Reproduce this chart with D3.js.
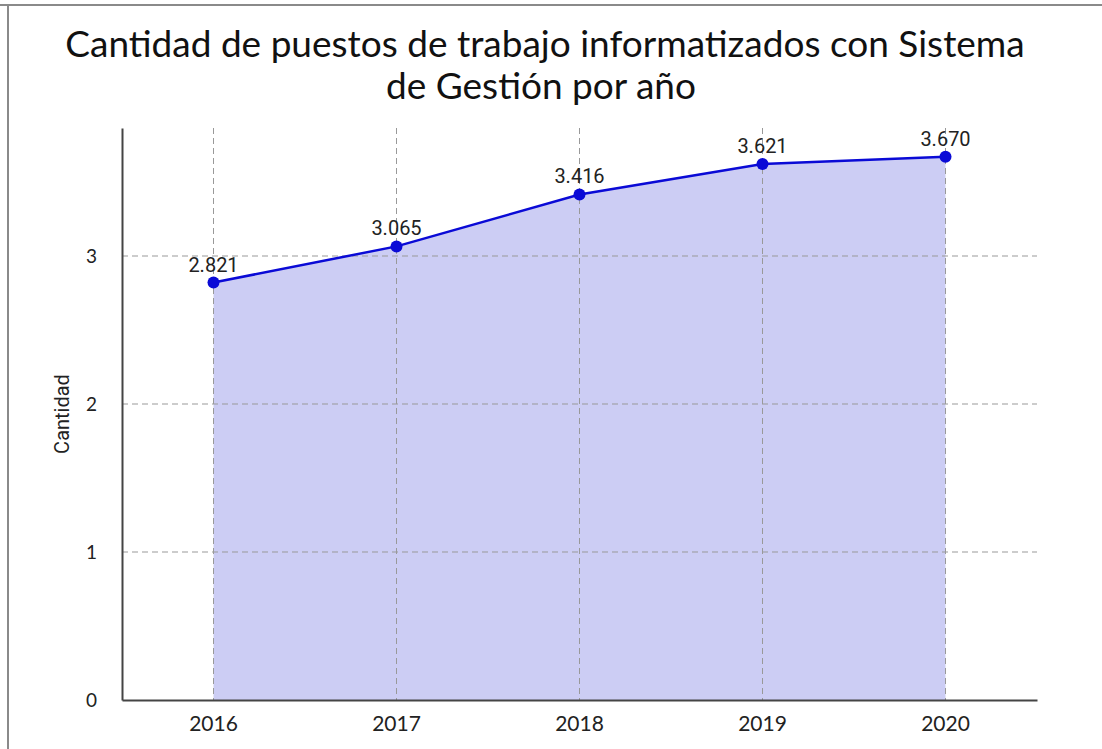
<!DOCTYPE html>
<html>
<head>
<meta charset="utf-8">
<script src="https://cdn.jsdelivr.net/npm/d3@7"></script>
<style>
  body { margin: 0; background: #fff; }
  svg { display: block; }
</style>
</head>
<body>
<svg width="1102" height="749"></svg>
<script>
// data
const years = ["2016", "2017", "2018", "2019", "2020"];
const values = [2.821, 3.065, 3.416, 3.621, 3.670];
const yTicks = [0, 1, 2, 3];
const titleLines = ["Cantidad de puestos de trabajo informatizados con Sistema", "de Gestión por año"];

const svg = d3.select("svg");
const margin = { left: 122, right: 65, top: 128, bottom: 49 };
const width = 1102 - margin.left - margin.right;
const height = 749 - margin.top - margin.bottom;

// frame (top and left edges only)
svg.append("line").attr("x1", 0).attr("x2", 1102).attr("y1", 5).attr("y2", 5)
  .attr("stroke", "#8a8a8a").attr("stroke-width", 2);
svg.append("line").attr("x1", 8).attr("x2", 8).attr("y1", 4).attr("y2", 749)
  .attr("stroke", "#8a8a8a").attr("stroke-width", 2);

// title
svg.append("g").selectAll("text").data(titleLines).join("text")
  .attr("x", (d, i) => i === 0 ? 545 : 541)
  .attr("y", (d, i) => 57 + i * 42)
  .attr("text-anchor", "middle")
  .style("font-family", "Lato")
  .style("font-size", "37px")
  .attr("fill", "#111")
  .text(d => d);

const g = svg.append("g").attr("transform", `translate(${margin.left},${margin.top})`);

const x = d3.scaleBand().domain(years).range([0, width]);
const y = d3.scaleLinear().domain([0, 3.865]).range([height, 0]);
const cx = d => x(d) + x.bandwidth() / 2;

// area
g.append("path")
  .datum(values)
  .attr("fill", "#cccdf4")
  .attr("d", d3.area().x((d, i) => cx(years[i])).y0(y(0)).y1(d => y(d)));

// grid
g.append("g").selectAll("line").data(yTicks.slice(1)).join("line")
  .attr("x1", 0).attr("x2", width)
  .attr("y1", d => y(d)).attr("y2", d => y(d))
  .attr("stroke", "#999")
  .attr("stroke-dasharray", "6,4");
g.append("g").selectAll("line").data(years).join("line")
  .attr("x1", d => cx(d)).attr("x2", d => cx(d))
  .attr("y1", 0).attr("y2", height)
  .attr("stroke", "#999")
  .attr("stroke-dasharray", "6,4");

// axes
const xAxis = g.append("g").attr("transform", `translate(0,${height})`)
  .call(d3.axisBottom(x).tickSize(0).tickPadding(16));
xAxis.select(".domain").attr("stroke", "#444").attr("stroke-width", 2);
xAxis.selectAll("text").style("font-family", "Lato").style("font-size", "21px").attr("fill", "#222");

const yAxis = g.append("g")
  .call(d3.axisLeft(y).tickValues(yTicks).tickSize(0).tickPadding(25).tickFormat(d3.format("d")));
yAxis.select(".domain").attr("stroke", "#444").attr("stroke-width", 2);
yAxis.selectAll("text").style("font-family", "Lato").style("font-size", "19px").attr("fill", "#222");

svg.append("text")
  .attr("transform", "translate(69,414) rotate(-90)")
  .attr("text-anchor", "middle")
  .style("font-family", "Roboto")
  .style("font-size", "20px")
  .attr("fill", "#222")
  .text("Cantidad");

// line and points
g.append("path")
  .datum(values)
  .attr("fill", "none")
  .attr("stroke", "#0a0ad6")
  .attr("stroke-width", 2.5)
  .attr("d", d3.line().x((d, i) => cx(years[i])).y(d => y(d)));

g.append("g").selectAll("circle").data(values).join("circle")
  .attr("cx", (d, i) => cx(years[i]))
  .attr("cy", d => y(d))
  .attr("r", 6)
  .attr("fill", "#0a0ad6");

const fmt = v => d3.format(".3f")(v);
g.append("g").selectAll("text").data(values).join("text")
  .attr("x", (d, i) => cx(years[i]))
  .attr("y", d => y(d) - 11)
  .attr("text-anchor", "middle")
  .style("font-family", "Roboto")
  .style("font-size", "20px")
  .attr("fill", "#222")
  .text(d => fmt(d));
</script>
</body>
</html>
